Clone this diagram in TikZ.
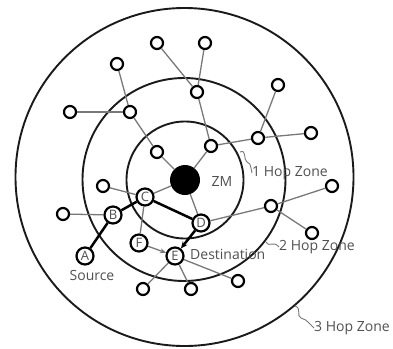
\documentclass[tikz,border=0pt]{standalone}
\usepackage{fontspec}
\setmainfont{Open Sans}
\usetikzlibrary{arrows.meta}
\definecolor{txt}{HTML}{505050}
\definecolor{edge}{HTML}{787878}
\definecolor{ring}{HTML}{1A1A1A}
\tikzset{
  sn/.style={circle,draw=black,line width=2.2pt,minimum size=12pt,inner sep=0pt,fill=white},
  ln/.style={circle,draw=black,line width=2.2pt,minimum size=17pt,inner sep=0pt,fill=white,
             text=txt,font=\fontsize{13}{13}\selectfont},
  ed/.style={draw=edge,line width=1.3pt},
  hop/.style={draw=black,line width=2.5pt},
  zone/.style={draw=ring,line width=1.9pt},
  lbl/.style={text=txt,font=\fontsize{14}{16}\selectfont,inner sep=0pt},
  sq/.style={draw=edge,line width=0.9pt},
}
\begin{document}
\begin{tikzpicture}[x=1pt,y=-1pt]
\useasboundingbox (0,0) rectangle (393,348);
% zones
\draw[zone] (184.5,177) circle (169);
\draw[zone] (184,179.5) circle (101.5);
\draw[zone] (185,180) circle (58.5);
% ZM
\node[circle,fill=black,minimum size=30pt,inner sep=0pt] (zm) at (185,180) {};
% small nodes
\node[sn] (n1) at (157,43) {};
\node[sn] (n2) at (205,43) {};
\node[sn] (n3) at (117,64) {};
\node[sn] (n4) at (197,92) {};
\node[sn] (n5) at (278,85) {};
\node[sn] (n6) at (70,112) {};
\node[sn] (n7) at (130,112) {};
\node[sn] (n8) at (311,133) {};
\node[sn] (n9) at (258,138) {};
\node[sn] (n10) at (211,146) {};
\node[sn] (n11) at (157,152) {};
\node[sn] (n12) at (103,186) {};
\node[sn] (n13) at (332,186) {};
\node[sn] (n14) at (63,214) {};
\node[sn] (n15) at (271,206) {};
\node[sn] (n16) at (312,233) {};
\node[sn] (n17) at (238,281) {};
\node[sn] (n18) at (143,289) {};
\node[sn] (n19) at (191,289) {};
% labelled nodes
\node[ln] (A) at (85,256) {A};
\node[ln] (B) at (113,215) {B};
\node[ln] (C) at (145,197) {C};
\node[ln] (D) at (201,223) {D};
\node[ln] (E) at (175,256) {E};
\node[ln] (F) at (139,243) {F};
% gray edges
\draw[ed] (n1) -- (n4);
\draw[ed] (n2) -- (n4);
\draw[ed] (n4) -- (n10);
\draw[ed] (n10) -- (zm);
\draw[ed] (n10) -- (n9);
\draw[ed] (n9) -- (n8);
\draw[ed] (n5) -- (n9);
\draw[ed] (n3) -- (n7);
\draw[ed] (n6) -- (n7);
\draw[ed] (n7) -- (n11);
\draw[ed] (n11) -- (zm);
\draw[ed] (n12) -- (C);
\draw[ed] (zm) -- (C);
\draw[ed] (n14) -- (B);
\draw[ed] (C) -- (F);
\draw[ed] (zm) -- (D);
\draw[ed] (D) -- (n15);
\draw[ed] (n15) -- (n13);
\draw[ed] (n15) -- (n16);
\draw[ed] (E) -- (n18);
\draw[ed] (E) -- (n19);
\draw[ed] (E) -- (n17);
\draw[ed,-{Stealth[length=6pt,width=5pt]}] (F) -- (E);
% route
\draw[hop] (A) -- (B);
\draw[hop] (B) -- (C);
\draw[hop] (C) -- (D);
\draw[hop,-{Stealth[length=7pt,width=6pt]}] (D) -- (E);
% labels
\node[lbl] (zmt) at (222,181) {ZM};
\node[lbl] (src) at (92,275) {Source};
\node[lbl,anchor=west] (dst) at (190,254) {Destination};
\node[lbl,anchor=west] (h1) at (252,173) {1 Hop Zone};
\node[lbl,anchor=west] (h2) at (279,247) {2 Hop Zone};
\node[lbl,anchor=west] (h3) at (314,328) {3 Hop Zone};
% squiggles
\coordinate (s1a) at (240,152);
\coordinate (s2a) at (266,242);
\coordinate (s3a) at (295,306);
\draw[sq] (s1a) .. controls (247,149) and (243,160) .. (247,162) .. controls (250,163) .. (h1.west);
\draw[sq] (s2a) .. controls (270,248) and (273,240) .. (h2.west);
\draw[sq] (s3a) .. controls (302,308) and (296,316) .. (301,318) .. controls (305,319) .. (h3.west);
\end{tikzpicture}
\end{document}
